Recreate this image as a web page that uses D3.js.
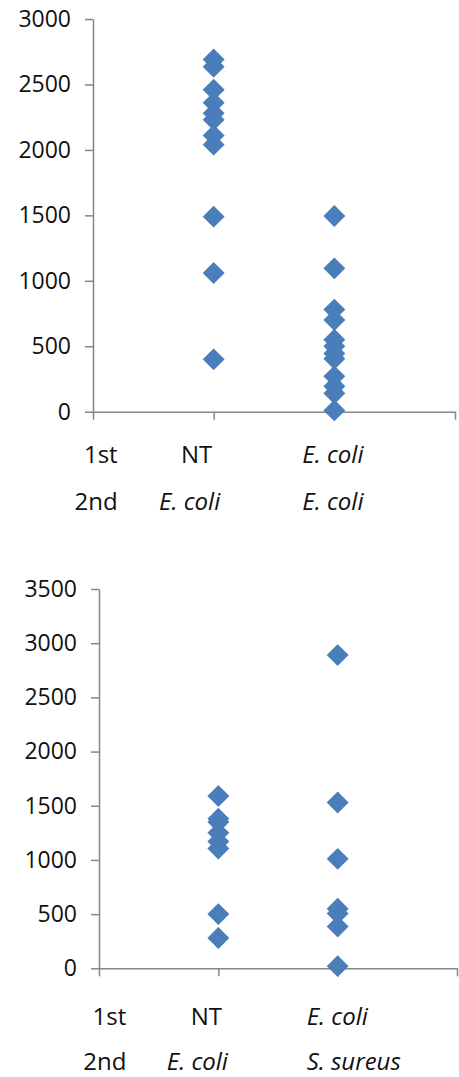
<!DOCTYPE html>
<html>
<head>
<meta charset="UTF-8">
<title>scatter</title>
<style>
body { margin: 0; background: #fff; }
svg text { font-family: "Open Sans", "Noto Sans", sans-serif; fill: #111; }
.axis path, .axis line { stroke: #868686; stroke-width: 1.5px; }
.axis text { font-size: 23px; }
.lbl { font-size: 24px; }
</style>
<script src="https://cdn.jsdelivr.net/npm/d3@7"></script>
</head>
<body>
<div id="canvas"></div>
<script>
// values
var topNT = [2690, 2635, 2460, 2360, 2280, 2230, 2110, 2040, 1490, 1060, 400];
var topEcoli = [1495, 1095, 780, 700, 550, 500, 445, 405, 270, 195, 140, 10];
var topTicks = [0, 500, 1000, 1500, 2000, 2500, 3000];

var botNT = [1590, 1380, 1350, 1250, 1170, 1105, 500, 280];
var botEcoli = [2890, 1530, 1010, 550, 505, 385, 20];
var botTicks = [0, 500, 1000, 1500, 2000, 2500, 3000, 3500];

var topRow1 = ["1st", "NT", "E. coli"];
var topRow2 = ["2nd", "E. coli", "E. coli"];
var botRow1 = ["1st", "NT", "E. coli"];
var botRow2 = ["2nd", "E. coli", "S. sureus"];

var svg = d3.select("#canvas").append("svg")
    .attr("width", 459)
    .attr("height", 1077);

var diamond = d3.symbol().type(d3.symbolSquare).size(240);

function drawChart(opt) {
  var g = svg.append("g");
  var x = d3.scaleLinear().domain([0, 3]).range([opt.left, opt.right]);
  var y = d3.scaleLinear().domain([0, opt.max]).range([opt.bottom, opt.top]);

  g.append("g")
      .attr("class", "axis")
      .attr("transform", "translate(" + opt.left + ",0)")
      .call(d3.axisLeft(y).tickValues(opt.ticks).tickFormat(d3.format("d"))
          .tickSize(8).tickSizeOuter(0).tickPadding(14))
      .call(function(a) { a.selectAll("text").attr("fill", "#111"); });

  g.append("g")
      .attr("class", "axis")
      .attr("transform", "translate(0," + opt.bottom + ")")
      .call(d3.axisBottom(x).tickValues([0, 1, 2, 3]).tickFormat("")
          .tickSize(8).tickSizeOuter(0));

  var series = [opt.s1, opt.s2];
  series.forEach(function(vals, i) {
    g.append("g").selectAll("path")
        .data(vals)
        .enter()
        .append("path")
        .attr("d", diamond)
        .attr("fill", "#4a7ebb")
        .attr("transform", function(d) {
          return "translate(" + x(i + 1) + "," + y(d) + ") rotate(45)";
        });
  });

  // category table under the axis
  [opt.row1, opt.row2].forEach(function(row, r) {
    var base = opt.labelY + r * opt.rowGap;
    g.append("text").attr("class", "lbl")
        .attr("x", x(1) + opt.off.head).attr("y", base)
        .attr("text-anchor", "end").text(row[0]);
    g.append("text").attr("class", "lbl")
        .attr("x", x(1) + (r === 0 ? opt.off.c1a : opt.off.c1b)).attr("y", base)
        .attr("text-anchor", "middle")
        .style("font-style", row[1] === "NT" ? "normal" : "italic")
        .text(row[1]);
    g.append("text").attr("class", "lbl")
        .attr("x", x(2) + opt.off.c2).attr("y", base)
        .attr("text-anchor", "start")
        .style("font-style", "italic")
        .text(row[2]);
  });
}

drawChart({
  left: 93, right: 455, top: 19, bottom: 411.7, max: 3000, ticks: topTicks,
  s1: topNT, s2: topEcoli, row1: topRow1, row2: topRow2, labelY: 463, rowGap: 47,
  off: { head: -96, c1a: -17, c1b: -24, c2: -32 }
});

drawChart({
  left: 99, right: 457, top: 589, bottom: 968.3, max: 3500, ticks: botTicks,
  s1: botNT, s2: botEcoli, row1: botRow1, row2: botRow2, labelY: 1025, rowGap: 45,
  off: { head: -92, c1a: -12, c1b: -21, c2: -31 }
});
</script>
</body>
</html>
